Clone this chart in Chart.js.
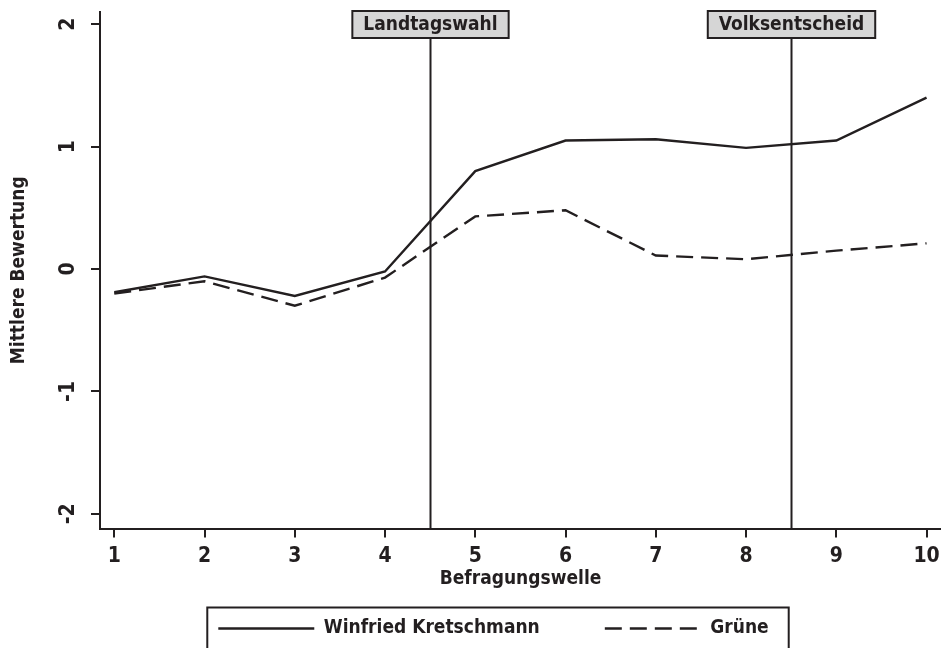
<!DOCTYPE html>
<html>
<head>
<meta charset="utf-8">
<script src="https://cdn.jsdelivr.net/npm/chart.js@4.4.1/dist/chart.umd.min.js"></script>
<style>
  html, body { margin: 0; padding: 0; background: #fff; }
  #wrap { width: 941px; height: 648px; }
</style>
</head>
<body>
<div id="wrap"><canvas id="myChart"></canvas></div>
<script>
// values
const waves = [1, 2, 3, 4, 5, 6, 7, 8, 9, 10];
const kretschmann = [-0.19, -0.06, -0.22, -0.02, 0.80, 1.05, 1.06, 0.99, 1.05, 1.40];
const gruene = [-0.20, -0.10, -0.30, -0.07, 0.43, 0.48, 0.11, 0.08, 0.15, 0.21];
const yTicks = [-2, -1, 0, 1, 2];
const eventWaves = [4.5, 8.5];
const eventLabels = ['Landtagswahl', 'Volksentscheid'];

const ink = '#231f20';
const fam = "'DejaVu Sans Condensed', 'Liberation Sans Narrow', sans-serif";
const boldFont = { family: fam, size: 19, weight: 'bold' };
const tickFont = { family: fam, size: 21, weight: 'bold' };

const toPoints = vals => waves.map((w, i) => ({ x: w, y: vals[i] }));

// vertical event lines with grey label boxes
const eventPlugin = {
  id: 'events',
  afterDatasetsDraw(chart) {
    const ctx = chart.ctx;
    const xs = chart.scales.x;
    const area = chart.chartArea;
    ctx.save();
    ctx.font = 'bold 19px ' + fam;
    eventWaves.forEach((w, i) => {
      const px = Math.round(xs.getPixelForValue(w)) + 0.5;
      const tw = ctx.measureText(eventLabels[i]).width;
      const bw = tw + 22, bh = 27, top = 11;
      ctx.strokeStyle = ink;
      ctx.lineWidth = 2;
      ctx.beginPath();
      ctx.moveTo(px, top + bh);
      ctx.lineTo(px, area.bottom);
      ctx.stroke();
      ctx.fillStyle = '#d6d6d6';
      ctx.fillRect(px - bw / 2, top, bw, bh);
      ctx.strokeRect(px - bw / 2, top, bw, bh);
      ctx.fillStyle = ink;
      ctx.textAlign = 'center';
      ctx.textBaseline = 'middle';
      ctx.fillText(eventLabels[i], px, top + bh / 2 + 1);
    });
    ctx.restore();
  }
};

// shift the legend a bit right and frame it
const legendBox = {
  id: 'legendBox',
  afterLayout(chart) {
    chart.legend.left += 23;
    chart.legend.right += 23;
  },
  afterDraw(chart) {
    const lg = chart.legend;
    const hb = lg.legendHitBoxes;
    if (!hb || !hb.length) return;
    const last = hb[hb.length - 1];
    const left = hb[0].left - 11;
    const right = last.left + last.width + 20;
    const ctx = chart.ctx;
    ctx.save();
    ctx.strokeStyle = ink;
    ctx.lineWidth = 2;
    ctx.strokeRect(left, lg.top, right - left, 60);
    ctx.restore();
  }
};

var ctx = document.getElementById('myChart').getContext('2d');
// eslint-disable-next-line no-unused-vars
var chart = new Chart(ctx, {
  type: 'line',
  data: {
    datasets: [{
      label: 'Winfried Kretschmann',
      data: toPoints(kretschmann),
      borderColor: ink,
      backgroundColor: 'rgba(0,0,0,0)',
      borderWidth: 2.4,
      pointRadius: 0,
      tension: 0
    }, {
      label: 'Grüne',
      data: toPoints(gruene),
      borderColor: ink,
      backgroundColor: 'rgba(0,0,0,0)',
      borderWidth: 2.4,
      borderDash: [17, 8],
      pointRadius: 0,
      tension: 0
    }]
  },
  options: {
    responsive: true,
    maintainAspectRatio: false,
    animation: false,
    layout: { padding: { top: 12, right: 0, left: 0, bottom: 0 } },
    plugins: {
      tooltip: { enabled: false },
      legend: {
        position: 'bottom',
        labels: {
          color: ink,
          font: boldFont,
          boxWidth: 96,
          boxHeight: 0,
          padding: 11.5,
          generateLabels(ch) {
            const items = Chart.defaults.plugins.legend.labels.generateLabels(ch);
            items.forEach((it, i) => {
              if (i < items.length - 1) it.text = it.text + '         ';
            });
            return items;
          }
        }
      }
    },
    scales: {
      x: {
        type: 'linear',
        min: 0.842,
        max: 10.16,
        afterBuildTicks: s => { s.ticks = waves.map(v => ({ value: v })); },
        afterFit: s => { s.height = 79; s.paddingLeft = 0; s.paddingRight = 0; },
        border: { display: true, color: ink, width: 2 },
        grid: { drawOnChartArea: false, color: ink, lineWidth: 2, tickLength: 9 },
        ticks: { color: ink, font: tickFont, padding: 6, maxRotation: 0 },
        title: {
          display: true, text: 'Befragungswelle', color: ink, font: boldFont,
          padding: { top: 0, bottom: 17 }
        }
      },
      y: {
        min: -2.12,
        max: 2.1,
        afterBuildTicks: s => { s.ticks = yTicks.map(v => ({ value: v })); },
        afterFit: s => { s.width = 100; s.paddingTop = 0; s.paddingBottom = 0; },
        border: { display: true, color: ink, width: 2 },
        grid: { drawOnChartArea: false, color: ink, lineWidth: 2, tickLength: 9 },
        ticks: {
          color: ink, font: tickFont,
          minRotation: 90, maxRotation: 90, crossAlign: 'center', padding: 12
        },
        title: {
          display: true, text: 'Mittlere Bewertung', color: ink, font: boldFont,
          padding: { top: 8, bottom: 0 }
        }
      }
    }
  },
  plugins: [eventPlugin, legendBox]
});
</script>
</body>
</html>
